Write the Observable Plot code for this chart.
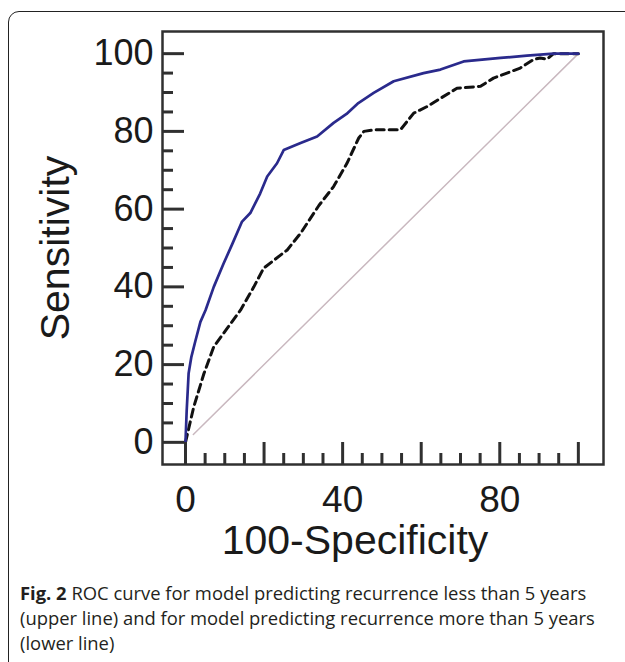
<!DOCTYPE html>
<html><head><meta charset="utf-8">
<script src="https://cdn.jsdelivr.net/npm/d3@7"></script>
<script src="https://cdn.jsdelivr.net/npm/@observablehq/plot@0.6"></script>
<style>
html,body{margin:0;padding:0;background:#fff;}
body{width:625px;height:662px;overflow:hidden;position:relative;}
#box{position:absolute;left:8px;top:11px;width:660px;height:700px;border:1.5px solid #222;border-radius:11px;}
#chart{position:absolute;left:0;top:0;}
#caption{position:absolute;left:20px;top:580px;font-family:"Open Sans";font-size:18.4px;line-height:25px;color:#231f20;white-space:nowrap;}
#caption b{font-weight:700;}
</style></head>
<body><div id="box"></div><div id="chart"></div><div id="caption"></div>
<script>
// tick values
const xMajor = [0, 20, 40, 60, 80, 100];
const yMajor = [0, 20, 40, 60, 80, 100];
const minorTicks = [5, 10, 15, 25, 30, 35, 45, 50, 55, 65, 70, 75, 85, 90, 95];
const xTickLabels = [0, 40, 80];
const yTickLabels = [0, 20, 40, 60, 80, 100];
const xTitle = "100-Specificity";
const yTitle = "Sensitivity";
const captionBold = "Fig. 2";
const captionLines = [
  "ROC curve for model predicting recurrence less than 5 years",
  "(upper line) and for model predicting recurrence more than 5 years",
  "(lower line)"
];

// upper line: model predicting recurrence < 5 years
const upperX = [0, 0.3, 0.8, 1.5, 2.5, 3.8, 5.1, 7.2, 9.7, 11.9, 14.4, 16.5, 19, 20.8, 23.3, 25, 29.3, 33.5, 37.7, 41, 44, 47.9, 53, 60.6, 64.9, 70.8, 80.2, 86.9, 93.7, 100];
const upperY = [0, 8, 17.8, 22, 26, 31, 34, 40, 46, 51, 56.8, 59, 64, 68.4, 71.8, 75.2, 77, 78.7, 82.2, 84.5, 87.3, 89.9, 92.9, 95, 95.9, 98, 98.9, 99.5, 100, 100];

// lower line: model predicting recurrence > 5 years
const lowerX = [0, 2.1, 4.7, 7.2, 10.6, 14, 17.4, 19.9, 25.9, 29.3, 34, 37.7, 41.1, 44.1, 45.4, 47.9, 54.7, 58.1, 61.5, 69.1, 75.1, 78.4, 85.2, 88.6, 90.3, 92, 93.7, 100];
const lowerY = [0, 9.1, 17.7, 24.6, 29.3, 34, 40, 44.8, 49.5, 53.8, 61, 65.8, 71.8, 78.3, 80, 80.4, 80.4, 84.7, 86.4, 91.1, 91.6, 93.7, 96.3, 98.5, 98.9, 98.6, 100, 100];

// reference diagonal
const diagX = [2, 100];
const diagY = [2, 100];

const toPts = (xs, ys) => xs.map((x, i) => ({x, y: ys[i]}));
const upper = toPts(upperX, upperY);
const lower = toPts(lowerX, lowerY);
const diag = toPts(diagX, diagY);

const ink = "#303030";
const chart = Plot.plot({
  width: 625,
  height: 575,
  marginLeft: 162,
  marginRight: 22,
  marginTop: 31,
  marginBottom: 111,
  style: {fontFamily: "Liberation Sans, Arial, sans-serif", color: "#1a1a1a", background: "transparent"},
  x: {domain: [-5.85, 106.4]},
  y: {domain: [-5.7, 105.7]},
  marks: [
    Plot.line(diag, {x: "x", y: "y", stroke: "#c9b8bf", strokeWidth: 1.5}),
    Plot.line(lower, {x: "x", y: "y", stroke: "#111", strokeWidth: 3, strokeDasharray: "8,5"}),
    Plot.line(upper, {x: "x", y: "y", stroke: "#2a2a8c", strokeWidth: 2.7}),
    Plot.axisY({ticks: yMajor, tickSize: -22, fill: "none", stroke: ink, strokeWidth: 3, label: null}),
    Plot.axisY({ticks: minorTicks, tickSize: -11, fill: "none", stroke: ink, strokeWidth: 3, label: null}),
    Plot.axisX({ticks: xMajor, tickSize: -22, fill: "none", stroke: ink, strokeWidth: 3, label: null}),
    Plot.axisX({ticks: minorTicks, tickSize: -11, fill: "none", stroke: ink, strokeWidth: 3, label: null}),
    Plot.axisY({ticks: yTickLabels, tickSize: 0, tickPadding: 9, fontSize: 36, label: null}),
    Plot.axisX({ticks: xTickLabels, tickSize: 0, tickPadding: 21, fontSize: 37, label: null}),
    Plot.text([yTitle], {frameAnchor: "left", dx: -107, rotate: -90, textAnchor: "middle", lineAnchor: "middle", fontSize: 41, text: d => d, fill: "#1a1a1a"}),
    Plot.text([xTitle], {frameAnchor: "bottom", dx: -28, dy: 89, fontSize: 41, text: d => d, fill: "#1a1a1a"}),
    Plot.frame({stroke: ink, strokeWidth: 2.5})
  ]
});
document.getElementById("chart").appendChild(chart);
document.getElementById("caption").innerHTML =
  "<b>" + captionBold + "</b> " + captionLines.join("<br>");
</script>
</body></html>
